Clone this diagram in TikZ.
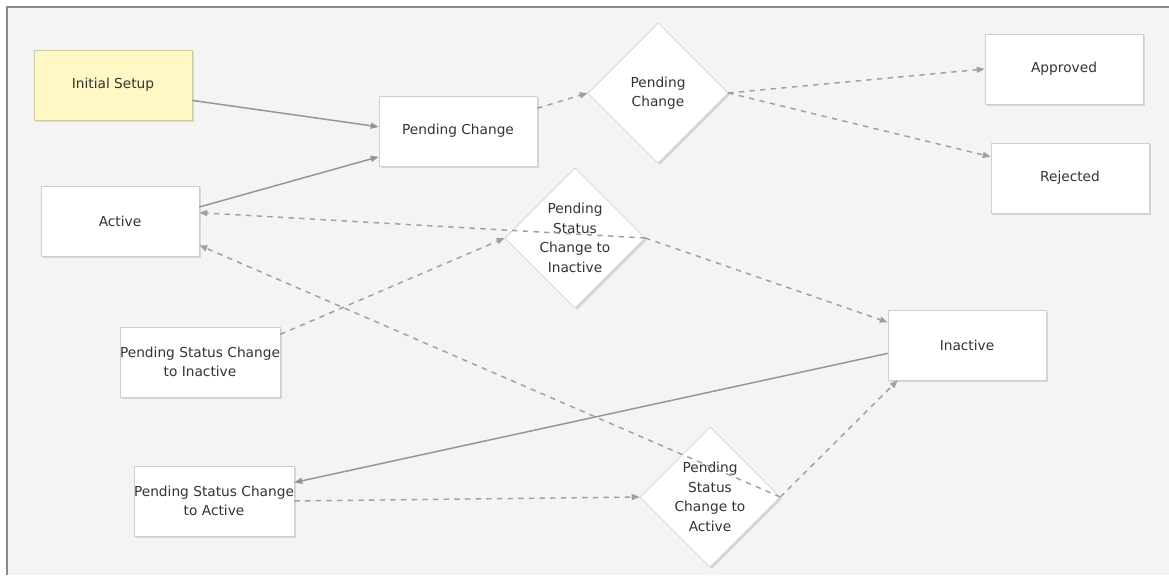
\documentclass[tikz,border=0pt]{standalone}
\usepackage{fontspec}
\setmainfont{DejaVu Sans}
\usepackage{tikz}
\usetikzlibrary{shapes.geometric}
\usetikzlibrary{shadows}
\usetikzlibrary{arrows.meta}

\definecolor{bg}{HTML}{F4F4F4}
\definecolor{frame}{HTML}{8A8A8A}
\definecolor{edge}{HTML}{A0A0A0}
\definecolor{line}{HTML}{959595}
\definecolor{note}{HTML}{FFF8C4}
\definecolor{rim}{HTML}{CFCFCF}
\definecolor{ink}{HTML}{333333}

\begin{document}
\begin{tikzpicture}[x=0.75pt, y=-0.75pt,
    every node/.style={font=\fontsize{10.3}{14.6}\selectfont, text=ink, align=center},
    state/.style={rectangle, draw=rim, fill=white, minimum width=118.5pt, minimum height=52.5pt, inner sep=0pt,
      drop shadow={shadow xshift=1.5pt, shadow yshift=-1.5pt, opacity=0.12, fill=black!80!blue}},
    choice/.style={diamond, aspect=1, draw=rim, fill=white, minimum width=105pt, minimum height=105pt, inner sep=0pt,
      drop shadow={shadow xshift=1.5pt, shadow yshift=-1.5pt, opacity=0.12, fill=black!80!blue}},
    flow/.style={draw=line, line width=1.1pt, -{Triangle[length=6pt, width=4.5pt]}},
    maybe/.style={draw=edge, line width=1.1pt, dash pattern=on 4pt off 4pt, -{Triangle[length=6pt, width=4.5pt]}}]

  \useasboundingbox (0,0) rectangle (1169,575);
  \fill [white] (0,0) rectangle (1169,575);
  \fill [bg] (7,7) rectangle (1169,575);
  \draw [frame, line width=1.5pt] (7,575) -- (7,7) -- (1169,7);

  \node [state, fill=note, draw=note!80!black!90] (init)     at (113,85)  {Initial Setup};
  \node [state]                                   (active)   at (120,221) {Active};
  \node [state]                                   (change)   at (458,131) {Pending Change};
  \node [choice]                                  (changeq)  at (658,93)  {Pending\\Change};
  \node [state]                                   (approved) at (1064,69) {Approved};
  \node [state]                                   (rejected) at (1070,178) {Rejected};
  \node [choice]                                  (offq)     at (575,238) {Pending\\Status\\Change to\\Inactive};
  \node [state]                                   (inactive) at (967,345) {Inactive};
  \node [state]                                   (toOff)    at (200,362) {Pending Status Change\\to Inactive};
  \node [state]                                   (toOn)     at (214,501) {Pending Status Change\\to Active};
  \node [choice]                                  (onq)      at (710,497) {Pending\\Status\\Change to\\Active};

  \draw [flow] (init.-11) -- (change.177);
  \draw [flow] (active.10) -- (change.198);
  \draw [maybe] (change.16) -- (changeq.west);
  \draw [maybe] (changeq.east) -- (approved.west);
  \draw [maybe] (changeq.east) -- (rejected.165);

  \draw [maybe] (toOff.19) -- (offq.west);
  \draw [maybe] (offq.east) -- (active.6);
  \draw [maybe] (offq.east) -- (inactive.164);

  \draw [flow] (inactive.186) -- (toOn.13);
  \draw [maybe] (toOn.east) -- (onq.west);
  \draw [maybe] (onq.east) -- (active.-17);
  \draw [maybe] (onq.east) -- (inactive.207);
\end{tikzpicture}
\end{document}
